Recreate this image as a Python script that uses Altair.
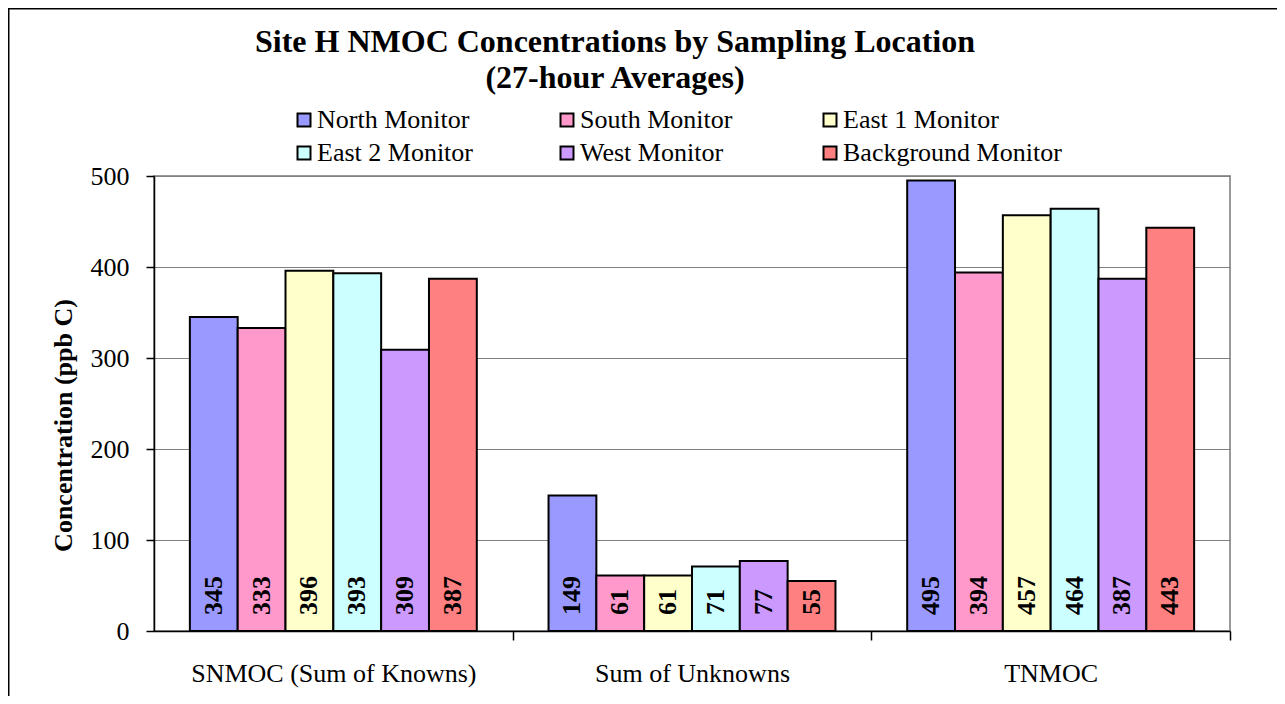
import altair as alt
import pandas as pd

categories = ["SNMOC (Sum of Knowns)", "Sum of Unknowns", "TNMOC"]
monitors = ["North Monitor", "South Monitor", "East 1 Monitor",
            "East 2 Monitor", "West Monitor", "Background Monitor"]
snmoc = [345, 333, 396, 393, 309, 387]
unknowns = [149, 61, 61, 71, 77, 55]
tnmoc = [495, 394, 457, 464, 387, 443]
colors = ["#9999FF", "#FF99CC", "#FFFFCC", "#CCFFFF", "#CC99FF", "#FF8080"]
y_ticks = [0, 100, 200, 300, 400, 500]

rows = []
for cat, vals in zip(categories, [snmoc, unknowns, tnmoc]):
    for m, v in zip(monitors, vals):
        rows.append({"category": cat, "monitor": m, "value": v})
df = pd.DataFrame(rows)

FONT = "Liberation Serif"
W, H = 1076, 455

x_enc = alt.X(
    "category:N", sort=categories, title=None,
    scale=alt.Scale(paddingInner=0.2, paddingOuter=0.1),
    axis=alt.Axis(labelAngle=0, labelFontSize=26, labelFont=FONT, labelColor="black",
                  domainColor="black", domainWidth=1.5, tickColor="black", tickSize=9,
                  tickWidth=1.5, bandPosition=1, tickOffset=35.9, labelOffset=-35.9,
                  labelPadding=20.5, labelLimit=500),
)
y_enc = alt.Y(
    "value:Q", scale=alt.Scale(domain=[0, 500], nice=False),
    axis=alt.Axis(values=y_ticks, title="Concentration (ppb C)", titleFont=FONT,
                  titleFontSize=26, titleFontWeight="bold", titleColor="black",
                  titleX=-83, titleY=249, titleAngle=270, titleBaseline="alphabetic",
                  titleAlign="center", labelFont=FONT, labelFontSize=26, labelColor="black",
                  labelPadding=17, tickSize=8, tickColor="black", tickWidth=1.5,
                  domainColor="black", domainWidth=1.5, gridColor="#808080", gridWidth=1),
)
xo_enc = alt.XOffset("monitor:N", sort=monitors,
                     scale=alt.Scale(paddingInner=0, paddingOuter=0))

border = alt.Chart(pd.DataFrame({"k": [0]})).mark_rect(
    fillOpacity=0, stroke="black", strokeWidth=2
).encode(x=alt.value(-145.5), x2=alt.value(1300), y=alt.value(-167.5), y2=alt.value(700))

bars = alt.Chart(df).mark_bar(stroke="black", strokeWidth=2).encode(
    x=x_enc, xOffset=xo_enc, y=y_enc,
    fill=alt.Fill("monitor:N", sort=monitors,
                  scale=alt.Scale(domain=monitors, range=colors),
                  legend=alt.Legend(title=None, orient="none", legendX=137, legendY=-69,
                                    columns=3, direction="horizontal", gridAlign="all",
                                    columnPadding=18, rowPadding=7, symbolType="square",
                                    symbolSize=169, symbolStrokeColor="black",
                                    symbolStrokeWidth=2, symbolOpacity=1,
                                    labelFont=FONT, labelFontSize=26, labelColor="black",
                                    labelOffset=0, labelLimit=500, padding=0)),
)

labels = alt.Chart(df).mark_text(
    angle=270, align="left", baseline="middle", dx=16, font=FONT, fontSize=26,
    fontWeight="bold", color="black"
).encode(x=x_enc, xOffset=xo_enc, y=alt.datum(0), text="value:Q")

chart = alt.layer(border, bars, labels).properties(
    width=W, height=H,
    padding={"left": 146, "top": 168, "right": 47, "bottom": 65},
    autosize=alt.AutoSizeParams(type="none"),
    background="white",
    title=alt.Title(["Site H NMOC Concentrations by Sampling Location", "(27-hour Averages)"],
                    font=FONT, fontSize=32, fontWeight="bold", color="black",
                    anchor="middle", frame="group", dx=-77, offset=-87, lineHeight=36),
).configure_view(stroke="#999999", strokeWidth=2)

chart.save("out.html", embed_options={"renderer": "svg", "actions": False})
